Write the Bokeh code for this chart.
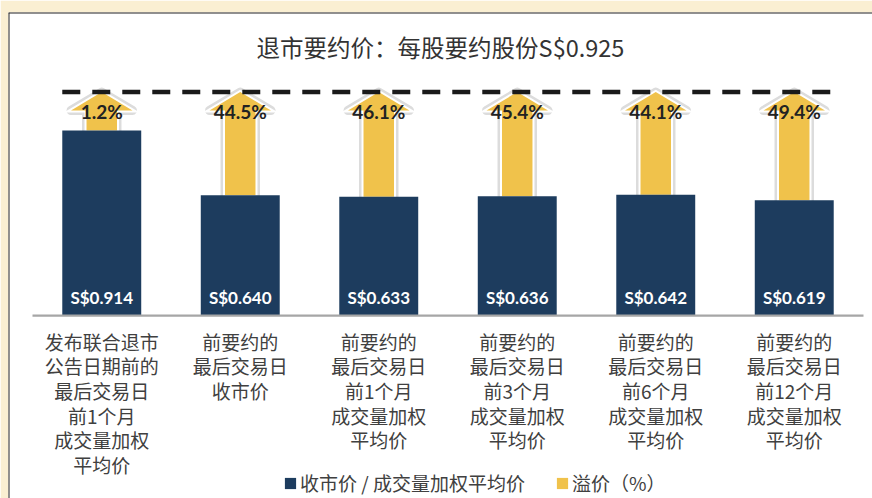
from bokeh.plotting import figure
from bokeh.models import Range1d, Span, Legend, LegendItem, ColumnDataSource
from bokeh.core.properties import value
from bokeh.embed import file_html
from bokeh.resources import INLINE

# ---------------- data ----------------
title_text = "退市要约价：每股要约股份S$0.925"
categories = [
    "发布联合退市\n公告日期前的\n最后交易日\n前1个月\n成交量加权\n平均价",
    "前要约的\n最后交易日\n收市价",
    "前要约的\n最后交易日\n前1个月\n成交量加权\n平均价",
    "前要约的\n最后交易日\n前3个月\n成交量加权\n平均价",
    "前要约的\n最后交易日\n前6个月\n成交量加权\n平均价",
    "前要约的\n最后交易日\n前12个月\n成交量加权\n平均价",
]
prices = [0.914, 0.640, 0.633, 0.636, 0.642, 0.619]
premiums = [1.2, 44.5, 46.1, 45.4, 44.1, 49.4]
legend_labels = ["收市价 / 成交量加权平均价", "溢价（%）"]

# ---------------- layout / style ----------------
NAVY = "#1D3C5E"
GOLD = "#F0C24B"
CREAM = "#FAEFD2"
CJK = "Noto Sans CJK SC"
LATIN = "Lato"

X_START, X_END = -0.6733, 5.565
BASE = 0.130                 # value at the category baseline
Y_START, Y_END = -0.645, 1.414
ARROW_TIP = 1.077
HEAD_H = 0.078
SHAFT_HW = 0.110
HEAD_HW = 0.222
BAR_W = 0.57
TITLE_Y = 1.267

xs = list(range(len(categories)))

p = figure(width=872, height=498, output_backend="svg", toolbar_location=None,
           x_range=Range1d(X_START, X_END), y_range=Range1d(Y_START, Y_END),
           min_border_left=8, min_border_right=0, min_border_top=12, min_border_bottom=0)
p.axis.visible = False
p.xgrid.visible = False
p.ygrid.visible = False
p.border_fill_color = CREAM
p.background_fill_color = "white"
p.outline_line_color = None

# panel borders (left & top)
p.add_layout(Span(location=X_START, dimension="height", line_color="#222222", line_width=2))
p.add_layout(Span(location=Y_END, dimension="width", line_color="#222222", line_width=2))

# arrows
head_base = ARROW_TIP - HEAD_H
axs, ays = [], []
for x, v in zip(xs, prices):
    axs.append([x - SHAFT_HW, x - SHAFT_HW, x - HEAD_HW, x, x + HEAD_HW, x + SHAFT_HW, x + SHAFT_HW])
    ays.append([v, head_base, head_base, ARROW_TIP, head_base, head_base, v])
arrow_src = ColumnDataSource(dict(xs=axs, ys=ays))
p.patches("xs", "ys", source=arrow_src, fill_color=None, line_color="#DCDCDC", line_width=9,
          line_join="round")
p.patches("xs", "ys", source=arrow_src, fill_color=None, line_color="white", line_width=4,
          line_join="miter")
arrows = p.patches("xs", "ys", source=arrow_src, fill_color=GOLD, line_color=None)

# bars
bar_src = ColumnDataSource(dict(x=xs, top=prices, bottom=[BASE] * len(xs),
                                plabel=[f"S${v:.3f}" for v in prices],
                                pct=[f"{v:.1f}%" for v in premiums],
                                cat=categories, hb=[head_base] * len(xs)))
bars = p.vbar(x="x", top="top", bottom="bottom", width=BAR_W, source=bar_src,
              fill_color=NAVY, line_color=None)

# dashed offer line across bars
p.segment(x0=[xs[0] - BAR_W / 2], y0=[ARROW_TIP], x1=[xs[-1] + BAR_W / 2], y1=[ARROW_TIP],
          line_color="#1A1A1A", line_width=4.5, line_dash="18 12")

# baseline
p.segment(x0=[xs[0] - 0.5], y0=[BASE], x1=[xs[-1] + 0.5], y1=[BASE],
          line_color="#A6A6A6", line_width=2.3)

# labels
p.text(x="x", y="bottom", text="plabel", source=bar_src, text_align="center", text_baseline="middle",
       y_offset=-18, text_color="white", text_font=value(LATIN), text_font_style="bold",
       text_font_size="17px")
p.text(x="x", y="hb", text="pct", source=bar_src, text_align="center", text_baseline="middle",
       y_offset=1, text_color="#222222", text_font=value(LATIN), text_font_style="bold",
       text_font_size="19px")
p.text(x="x", y="bottom", text="cat", source=bar_src, text_align="center", text_baseline="top",
       y_offset=12, text_color="#404040", text_font=value(CJK), text_font_size="19px",
       text_line_height=0.915)

# title
p.text(x=[(X_START + X_END) / 2], y=[TITLE_Y], text=[title_text], text_align="center",
       text_baseline="middle", text_color="#333333", text_font=value(CJK), text_font_size="23.5px")

# legend
legend = Legend(items=[LegendItem(label=legend_labels[0], renderers=[bars]),
                       LegendItem(label=legend_labels[1], renderers=[arrows])],
                orientation="horizontal", location=(275, 2), padding=0, margin=0,
                glyph_width=14, glyph_height=14, label_height=20, label_standoff=3, spacing=30,
                label_text_font=CJK, label_text_font_size="19px", label_text_color="#404040",
                background_fill_alpha=0, border_line_color=None)
p.add_layout(legend, "center")

open("out.html", "w").write(file_html(p, INLINE))
